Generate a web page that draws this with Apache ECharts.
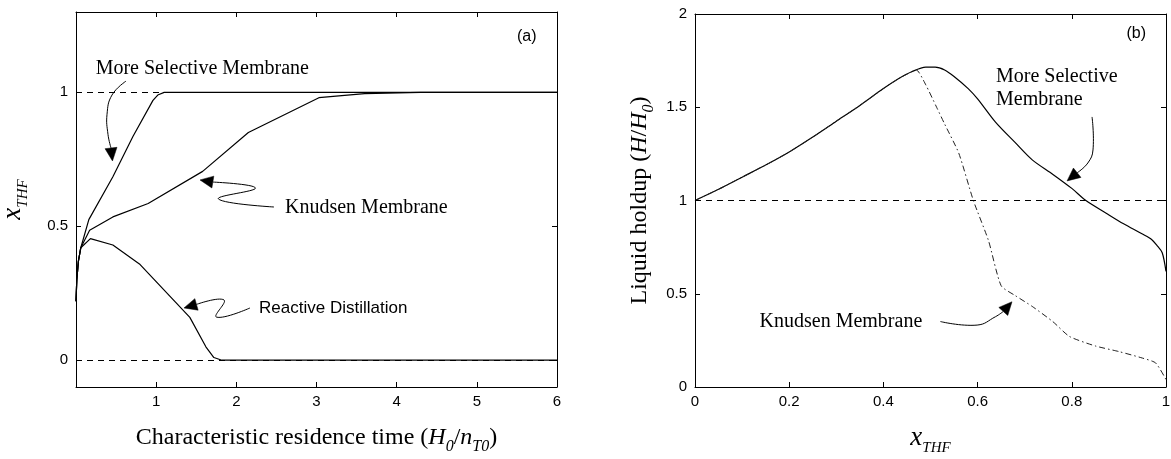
<!DOCTYPE html>
<html><head><meta charset="utf-8">
<script src="https://cdn.jsdelivr.net/npm/echarts@6/dist/echarts.min.js"></script>
<style>html,body{margin:0;padding:0;background:#fff}#c{width:1171px;height:459px}</style>
</head><body><div id="c"></div>
<script>
// ---------- Panel (a): x_THF vs characteristic residence time ----------
const timeMoreSelective = [0, 0.01, 0.03, 0.06, 0.16, 0.46, 0.71, 0.96, 1.02, 1.1, 6];
const xMoreSelective    = [0.22, 0.30, 0.37, 0.42, 0.525, 0.685, 0.835, 0.97, 0.99, 1.0, 1.0];
const timeKnudsenA = [0, 0.01, 0.03, 0.06, 0.17, 0.46, 0.9, 1.58, 2.15, 3.03, 3.6, 4.3, 6];
const xKnudsenA    = [0.22, 0.30, 0.37, 0.42, 0.485, 0.535, 0.585, 0.705, 0.85, 0.98, 0.995, 1.0, 1.0];
const timeReactive = [0, 0.01, 0.03, 0.06, 0.18, 0.46, 0.8, 1.42, 1.62, 1.72, 1.82, 6];
const xReactive    = [0.22, 0.30, 0.37, 0.42, 0.454, 0.43, 0.357, 0.16, 0.05, 0.01, 0.0, 0.0];
const refLevelsA = [0, 1];
const ticksXA = [0, 1, 2, 3, 4, 5, 6];
const ticksYA = [0, 0.5, 1];

// ---------- Panel (b): liquid holdup vs x_THF ----------
const xSelB = [0, 0.05, 0.1, 0.15, 0.2, 0.25, 0.3, 0.35, 0.4, 0.43, 0.46, 0.49, 0.51, 0.53, 0.55, 0.58, 0.6, 0.638, 0.68, 0.716, 0.76, 0.8, 0.83, 0.873, 0.91, 0.95, 0.97, 0.982, 0.992, 1.0];
const hSelB = [1.0, 1.06, 1.125, 1.19, 1.26, 1.34, 1.425, 1.51, 1.60, 1.65, 1.69, 1.715, 1.715, 1.70, 1.665, 1.6, 1.545, 1.42, 1.31, 1.218, 1.14, 1.065, 1.0, 0.932, 0.875, 0.82, 0.79, 0.755, 0.72, 0.62];
const xKnuB = [0, 0.05, 0.1, 0.15, 0.2, 0.25, 0.3, 0.35, 0.4, 0.43, 0.46, 0.47, 0.49, 0.513, 0.53, 0.56, 0.591, 0.623, 0.65, 0.68, 0.716, 0.76, 0.795, 0.85, 0.9, 0.95, 0.978, 1.0];
const hKnuB = [1.0, 1.06, 1.125, 1.19, 1.26, 1.34, 1.425, 1.51, 1.60, 1.65, 1.69, 1.70, 1.62, 1.50, 1.41, 1.254, 1.0, 0.786, 0.543, 0.49, 0.432, 0.35, 0.271, 0.22, 0.19, 0.155, 0.129, 0.04];
const refLevelsB = [1];
const ticksXB = [0, 0.2, 0.4, 0.6, 0.8, 1];
const ticksYB = [0, 0.5, 1, 1.5, 2];

const SERIF = "'Liberation Serif','Times New Roman',serif";
const SANS = "'Liberation Sans',Arial,sans-serif";

function zip(a, b) { return a.map((v, i) => [v, b[i]]); }

const chart = echarts.init(document.getElementById('c'), null, {renderer: 'canvas'});

function axisBase(extra) {
  return Object.assign({
    type: 'value',
    axisLine: {show: true, onZero: false, lineStyle: {color: '#000', width: 1}},
    axisTick: {show: true, inside: true, length: 5, lineStyle: {color: '#000', width: 1}},
    axisLabel: {color: '#000', fontSize: 15, fontFamily: SANS, margin: 7},
    splitLine: {show: false}
  }, extra);
}

function tok(size, italic, lower) {
  return {fontFamily: SERIF, fontStyle: italic ? 'italic' : 'normal', fontSize: size, color: '#000',
    verticalAlign: 'bottom', lineHeight: size + 2, padding: [0, 0, lower ? 0 : 5, 0]};
}
const xTitle = {
  name: '{x|x}{s|THF}',
  rich: {x: tok(27, true, false), s: tok(15, true, true)}
};

const lineStyleSolid = {color: '#000', width: 1.2};

const option = {
  animation: false,
  backgroundColor: '#fff',
  grid: [
    {left: 76, top: 12, width: 481, height: 375, outerBoundsMode: 'none', containLabel: false},
    {left: 695, top: 14, width: 471, height: 373, outerBoundsMode: 'none', containLabel: false}
  ],
  xAxis: [
    axisBase({gridIndex: 0, min: 0, max: 6, interval: 1, position: 'bottom',
      axisLabel: {color: '#000', fontSize: 15, fontFamily: SANS, margin: 7,
        formatter: v => (v === 0 ? '' : String(v))},
      name: '{r|Characteristic residence time (}{i|H}{s|0}{r|/}{i|n}{s|T0}{r|)}',
      nameLocation: 'middle', nameGap: 42,
      nameTextStyle: {rich: {r: tok(24, false, false), i: tok(24, true, false), s: tok(16, true, true)}}
    }),
    axisBase({gridIndex: 0, min: 0, max: 6, interval: 1, position: 'top', axisLabel: {show: false}}),
    axisBase({gridIndex: 1, min: 0, max: 1, interval: 0.2, position: 'bottom',
      name: xTitle.name, nameLocation: 'middle', nameGap: 40,
      nameTextStyle: {rich: xTitle.rich}
    }),
    axisBase({gridIndex: 1, min: 0, max: 1, interval: 0.2, position: 'top', axisLabel: {show: false}})
  ],
  yAxis: [
    axisBase({gridIndex: 0, min: -0.1, max: 1.3, position: 'left',
      axisTick: {show: true, inside: true, length: 5, customValues: ticksYA, lineStyle: {color: '#000'}},
      axisLabel: {color: '#000', fontSize: 15, fontFamily: SANS, margin: 8, customValues: ticksYA},
      name: xTitle.name, nameLocation: 'middle', nameRotate: 90, nameGap: 45,
      nameTextStyle: {rich: xTitle.rich}
    }),
    axisBase({gridIndex: 0, min: -0.1, max: 1.3, position: 'right',
      axisTick: {show: true, inside: true, length: 5, customValues: ticksYA, lineStyle: {color: '#000'}},
      axisLabel: {show: false}}),
    axisBase({gridIndex: 1, min: 0, max: 2, interval: 0.5, position: 'left',
      axisLabel: {color: '#000', fontSize: 15, fontFamily: SANS, margin: 8},
      name: '{r|Liquid holdup (}{i|H}{r|/}{i|H}{s|0}{r|)}', nameLocation: 'middle', nameRotate: 90, nameGap: 38,
      nameTextStyle: {rich: {r: tok(24, false, false), i: tok(24, true, false), s: tok(16, true, true)}}
    }),
    axisBase({gridIndex: 1, min: 0, max: 2, interval: 0.5, position: 'right', axisLabel: {show: false}})
  ],
  series: [
    {type: 'line', xAxisIndex: 0, yAxisIndex: 0, data: [], symbol: 'none', silent: true,
      markLine: {symbol: 'none', silent: true, label: {show: false},
        lineStyle: {color: '#000', width: 1, type: [6, 5]},
        data: refLevelsA.map(v => ({yAxis: v}))}},
    {name: 'More Selective Membrane', type: 'line', xAxisIndex: 0, yAxisIndex: 0, data: zip(timeMoreSelective, xMoreSelective), symbol: 'none', lineStyle: lineStyleSolid},
    {name: 'Knudsen Membrane', type: 'line', xAxisIndex: 0, yAxisIndex: 0, data: zip(timeKnudsenA, xKnudsenA), symbol: 'none', lineStyle: lineStyleSolid},
    {name: 'Reactive Distillation', type: 'line', xAxisIndex: 0, yAxisIndex: 0, data: zip(timeReactive, xReactive), symbol: 'none', lineStyle: lineStyleSolid},
    {type: 'line', xAxisIndex: 2, yAxisIndex: 2, data: [], symbol: 'none', silent: true,
      markLine: {symbol: 'none', silent: true, label: {show: false},
        lineStyle: {color: '#000', width: 1, type: [6, 5]},
        data: refLevelsB.map(v => ({yAxis: v}))}},
    {name: 'More Selective Membrane (b)', type: 'line', xAxisIndex: 2, yAxisIndex: 2, data: zip(xSelB, hSelB), symbol: 'none', smooth: 0.3, lineStyle: lineStyleSolid},
    {name: 'Knudsen Membrane (b)', type: 'line', xAxisIndex: 2, yAxisIndex: 2, data: zip(xKnuB, hKnuB), symbol: 'none', smooth: 0.2, lineStyle: {color: '#222', width: 1, type: [6, 3, 1.5, 3]}}
  ]
};
chart.setOption(option);

// ---------- Annotations (positions in data coordinates) ----------
const annotTextsA = [
  {t: 'More Selective Membrane', at: [0.245, 1.087], font: SERIF, size: 20},
  {t: 'Knudsen Membrane', at: [2.607, 0.568], font: SERIF, size: 20},
  {t: 'Reactive Distillation', at: [2.283, 0.195], font: SANS, size: 17},
  {t: '(a)', at: [5.5, 1.21], font: SANS, size: 16}
];
const annotTextsB = [
  {t: 'More Selective', at: [0.639, 1.662], font: SERIF, size: 20},
  {t: 'Membrane', at: [0.639, 1.539], font: SERIF, size: 20},
  {t: 'Knudsen Membrane', at: [0.137, 0.351], font: SERIF, size: 20},
  {t: '(b)', at: [0.916, 1.896], font: SANS, size: 16}
];
const arrowsA = [
  {path: [[0.624, 1.042], [0.449, 0.99], [0.387, 0.918], [0.399, 0.843], [0.437, 0.792]], tip: [0.455, 0.744]},
  {path: [[2.47, 0.572], [1.777, 0.602], [2.239, 0.643], [1.709, 0.665]], tip: [1.547, 0.673]},
  {path: [[2.17, 0.195], [1.752, 0.161], [1.846, 0.225], [1.522, 0.21]], tip: [1.347, 0.195]}
];
const arrowsB = [
  {path: [[0.843, 1.448], [0.845, 1.271], [0.834, 1.201], [0.812, 1.15]], tip: [0.79, 1.105]},
  {path: [[0.521, 0.351], [0.599, 0.332], [0.638, 0.377], [0.657, 0.412]], tip: [0.673, 0.457]}
];

function buildGraphics(seriesIndex, texts, arrows) {
  const px = p => chart.convertToPixel({seriesIndex: seriesIndex}, p);
  const out = [];
  texts.forEach(o => {
    const p = px(o.at);
    out.push({type: 'text', x: p[0], y: p[1], silent: true,
      style: {text: o.t, fill: '#000', fontFamily: o.font, fontSize: o.size, align: 'left', verticalAlign: 'middle'}});
  });
  arrows.forEach(a => {
    const pts = a.path.map(px);
    const tip = px(a.tip);
    const last = pts[pts.length - 1];
    let dx = tip[0] - last[0], dy = tip[1] - last[1];
    const L = Math.hypot(dx, dy) || 1; dx /= L; dy /= L;
    const len = 13, hw = 6;
    const bx = tip[0] - dx * len, by = tip[1] - dy * len;
    pts[pts.length - 1] = [bx, by];
    out.push({type: 'polyline', silent: true, shape: {points: pts, smooth: 0.45},
      style: {stroke: '#000', lineWidth: 1, fill: null}});
    out.push({type: 'polygon', silent: true,
      shape: {points: [tip, [bx - dy * hw, by + dx * hw], [bx + dy * hw, by - dx * hw]]},
      style: {fill: '#000', stroke: '#000', lineWidth: 0.5}});
  });
  return out;
}
chart.setOption({graphic: buildGraphics(1, annotTextsA, arrowsA).concat(buildGraphics(5, annotTextsB, arrowsB))});
</script>
</body></html>
